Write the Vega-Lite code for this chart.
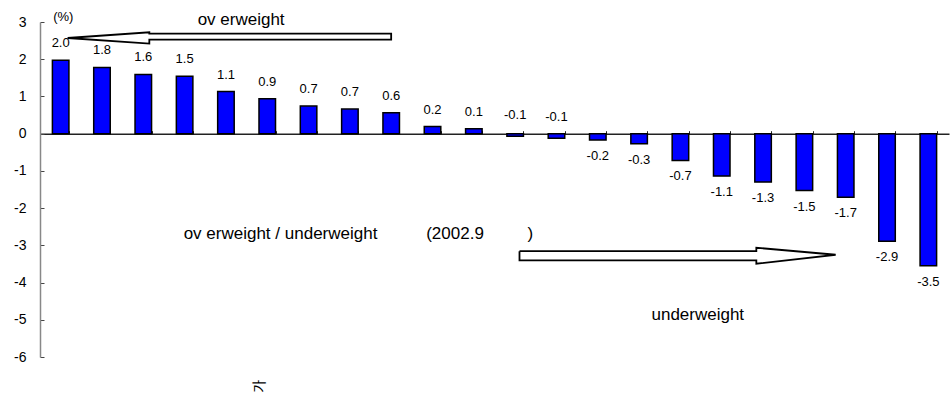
{
  "$schema": "https://vega.github.io/schema/vega-lite/v6.json",
  "width": 909,
  "height": 335,
  "autosize": {"type": "none"},
  "padding": {"left": 40, "top": 22, "right": 2, "bottom": 37},
  "background": "white",
  "config": {"view": {"stroke": null}, "font": "Liberation Sans"},
  "datasets": {
    "bars": [
      {"rank": 1, "value": 1.97, "label": "2.0"},
      {"rank": 2, "value": 1.78, "label": "1.8"},
      {"rank": 3, "value": 1.59, "label": "1.6"},
      {"rank": 4, "value": 1.54, "label": "1.5"},
      {"rank": 5, "value": 1.13, "label": "1.1"},
      {"rank": 6, "value": 0.94, "label": "0.9"},
      {"rank": 7, "value": 0.74, "label": "0.7"},
      {"rank": 8, "value": 0.66, "label": "0.7"},
      {"rank": 9, "value": 0.56, "label": "0.6"},
      {"rank": 10, "value": 0.19, "label": "0.2"},
      {"rank": 11, "value": 0.13, "label": "0.1"},
      {"rank": 12, "value": -0.07, "label": "-0.1"},
      {"rank": 13, "value": -0.12, "label": "-0.1"},
      {"rank": 14, "value": -0.17, "label": "-0.2"},
      {"rank": 15, "value": -0.27, "label": "-0.3"},
      {"rank": 16, "value": -0.72, "label": "-0.7"},
      {"rank": 17, "value": -1.14, "label": "-1.1"},
      {"rank": 18, "value": -1.3, "label": "-1.3"},
      {"rank": 19, "value": -1.53, "label": "-1.5"},
      {"rank": 20, "value": -1.71, "label": "-1.7"},
      {"rank": 21, "value": -2.89, "label": "-2.9"},
      {"rank": 22, "value": -3.55, "label": "-3.5"}
    ],
    "arrows": [
      {"arrow": "left", "i": 0, "x": 0.668, "y": 2.57},
      {"arrow": "left", "i": 1, "x": 2.646, "y": 2.723},
      {"arrow": "left", "i": 2, "x": 2.646, "y": 2.688},
      {"arrow": "left", "i": 3, "x": 8.499, "y": 2.688},
      {"arrow": "left", "i": 4, "x": 8.499, "y": 2.527},
      {"arrow": "left", "i": 5, "x": 2.646, "y": 2.527},
      {"arrow": "left", "i": 6, "x": 2.646, "y": 2.419},
      {"arrow": "left", "i": 7, "x": 0.668, "y": 2.57},
      {"arrow": "right", "i": 0, "x": 11.605, "y": -3.156},
      {"arrow": "right", "i": 1, "x": 17.337, "y": -3.156},
      {"arrow": "right", "i": 2, "x": 17.337, "y": -3.065},
      {"arrow": "right", "i": 3, "x": 19.257, "y": -3.253},
      {"arrow": "right", "i": 4, "x": 17.337, "y": -3.495},
      {"arrow": "right", "i": 5, "x": 17.337, "y": -3.406},
      {"arrow": "right", "i": 6, "x": 11.605, "y": -3.406},
      {"arrow": "right", "i": 7, "x": 11.605, "y": -3.156}
    ],
    "notes": [
      {"kind": "unit", "text": "(%)", "x": 0.564, "y": 3.134},
      {"kind": "center", "text": "ov erweight", "x": 4.867, "y": 3.065},
      {"kind": "center", "text": "underweight", "x": 15.92, "y": -4.885},
      {"kind": "left", "text": "ov erweight / underweight", "x": 3.477, "y": -2.688},
      {"kind": "left", "text": "(2002.9", "x": 9.347, "y": -2.688},
      {"kind": "left", "text": ")", "x": 11.8, "y": -2.688},
      {"kind": "rot", "text": "가", "x": 5.334, "y": -6.79}
    ]
  },
  "layer": [
    {
      "data": {"name": "bars"},
      "encoding": {
        "x": {
          "field": "rank",
          "type": "ordinal",
          "sort": null,
          "scale": {"paddingInner": 0.6, "paddingOuter": 0.3},
          "axis": {
            "orient": "top",
            "offset": -111.7,
            "labels": false,
            "title": null,
            "tickBand": "extent",
            "tickSize": 3,
            "tickColor": "#222",
            "domainColor": "#222",
            "domainWidth": 1.5,
            "tickWidth": 1
          }
        },
        "y": {
          "field": "value",
          "type": "quantitative",
          "scale": {"domain": [-6, 3], "nice": false, "zero": false},
          "axis": {
            "values": [-6, -5, -4, -3, -2, -1, 0, 1, 2, 3],
            "title": null,
            "grid": false,
            "tickSize": -4,
            "labelPadding": 18,
            "labelOverlap": false,
            "labelExpr": "datum.value + ''",
            "labelFontSize": 14,
            "labelColor": "#000",
            "labelFont": "Liberation Sans",
            "domainColor": "#888",
            "domainWidth": 1.5,
            "tickColor": "#444"
          }
        }
      },
      "layer": [
        {
          "mark": {"type": "bar", "color": "#0000FF", "stroke": "#000", "strokeWidth": 1.5}
        },
        {
          "transform": [{"filter": "datum.value >= 0"}],
          "mark": {"type": "text", "dy": -17, "fontSize": 13, "color": "#000", "baseline": "middle"},
          "encoding": {"text": {"field": "label"}}
        },
        {
          "transform": [{"filter": "datum.value < 0 && datum.value > -0.15"}],
          "mark": {"type": "text", "dy": -21, "fontSize": 13, "color": "#000", "baseline": "middle"},
          "encoding": {"text": {"field": "label"}}
        },
        {
          "transform": [{"filter": "datum.value <= -0.15"}],
          "mark": {"type": "text", "dy": 16, "fontSize": 13, "color": "#000", "baseline": "middle"},
          "encoding": {"text": {"field": "label"}}
        }
      ]
    },
    {
      "data": {"name": "arrows"},
      "mark": {"type": "line", "color": "#000", "strokeWidth": 1.8, "strokeJoin": "miter"},
      "encoding": {
        "x": {"field": "x", "type": "quantitative", "scale": {"domain": [0, 22], "nice": false, "zero": false}, "axis": null},
        "y": {"field": "y", "type": "quantitative", "axis": null},
        "detail": {"field": "arrow"},
        "order": {"field": "i"}
      }
    },
    {
      "data": {"name": "notes"},
      "encoding": {
        "x": {"field": "x", "type": "quantitative", "scale": {"domain": [0, 22], "nice": false, "zero": false}, "axis": null},
        "y": {"field": "y", "type": "quantitative", "axis": null},
        "text": {"field": "text"}
      },
      "layer": [
        {
          "transform": [{"filter": "datum.kind == 'unit'"}],
          "mark": {"type": "text", "fontSize": 13, "align": "center", "baseline": "middle", "color": "#000"}
        },
        {
          "transform": [{"filter": "datum.kind == 'center'"}],
          "mark": {"type": "text", "fontSize": 17, "align": "center", "baseline": "middle", "color": "#000"}
        },
        {
          "transform": [{"filter": "datum.kind == 'left'"}],
          "mark": {"type": "text", "fontSize": 17, "align": "left", "baseline": "middle", "color": "#000"}
        },
        {
          "transform": [{"filter": "datum.kind == 'rot'"}],
          "mark": {"type": "text", "fontSize": 14, "align": "center", "baseline": "middle", "angle": 270, "font": "Noto Sans CJK KR", "color": "#000"}
        }
      ]
    }
  ],
  "resolve": {"scale": {"x": "independent"}, "axis": {"y": "independent"}}
}
